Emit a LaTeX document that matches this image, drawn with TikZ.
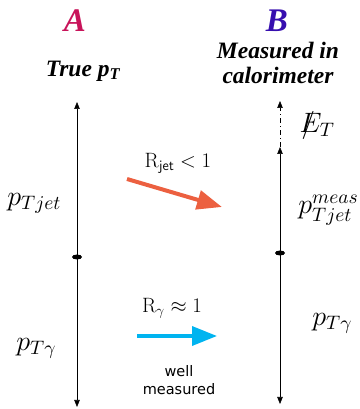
\documentclass[tikz,border=0pt]{standalone}
\usepackage{amsmath, amssymb}
\usepackage{fontspec}
\usepackage{tikz}
\usetikzlibrary{arrows.meta, shapes.geometric}
\usepackage{xcolor}

\newfontfamily\titlefont{Liberation Serif}
\newfontfamily\notefont{DejaVu Sans}

\definecolor{colA}{RGB}{200,20,90}
\definecolor{colB}{RGB}{55,15,175}
\definecolor{jetred}{RGB}{236,96,64}
\definecolor{photblue}{RGB}{0,180,240}

\begin{document}
\begin{tikzpicture}[
        x=1pt, y=1pt,
        head/.style={font=\titlefont\fontsize{33}{35}\selectfont\bfseries\itshape},
        title/.style={
            font=\titlefont\fontsize{23.5}{25}\selectfont\bfseries\itshape,
            align=center
        },
        lab/.style={font=\fontsize{14.4}{16}\selectfont, scale=1.95, inner sep=0pt},
        rlab/.style={font=\huge, inner sep=0pt},
        note/.style={font=\notefont\fontsize{14.5}{18.5}\selectfont, align=center},
        axis/.style={<->, >={Triangle[length=7pt,width=5.5pt]}, semithick},
        tick/.style={
            ellipse,
            fill=black,
            inner sep=0pt,
            minimum width=10pt,
            minimum height=5pt
        },
        resp/.style={line width=4pt, -{Triangle[length=25pt,width=19pt]}}
    ]

        \useasboundingbox (0,0) rectangle (359,409);

        \node[head, text=colA] (A) at (75,388) {A};
        \node[head, text=colB] (B) at (277,388) {B};

        \node[title] (truept) at (83,338) {True p\textsubscript{T}};
        \node[title] (meas) at (278,346) {Measured in\\ calorimeter};

        % true side
        \coordinate (ltop) at (77,307);
        \coordinate (lbot) at (77,2);

        \node[lab, anchor=west] (ptjet) at (7,206) {$p_{Tjet}$};
        \node[lab, anchor=west] (ptgam) at (16,61) {$p_{T\gamma}$};

        % measured side
        \coordinate (rmet) at (280,308);
        \coordinate (rtop) at (280,262);
        \coordinate (rbot) at (280,5);

        \node[lab, anchor=west] (etmiss) at (301,284) {${/}\mkern-10mu E_T$};
        \node[lab, anchor=west] (ptmeas) at (298,199) {$p_{Tjet}^{meas}$};
        \node[lab, anchor=west] (ptgamr) at (312,86) {$p_{T\gamma}$};

        % responses
        \coordinate (jstart) at (127,230);
        \coordinate (jend) at (222,202);
        \node[rlab] (rjet) at (178,246) {$\mathrm{R}_{\textsf{jet}} < 1$};

        \coordinate (gstart) at (137,73);
        \coordinate (gend) at (217,73);
        \node[rlab] (rgam) at (172,101) {$\mathrm{R}_{\gamma} \approx 1$};
        \node[note] (well) at (179,29) {well\\ measured};

        \draw[axis] (ltop) -- (lbot);
        \draw[axis] (rtop) -- (rbot);
        \draw[axis, dash pattern=on 5pt off 3pt on 1pt off 3pt,
            -{Triangle[length=7pt,width=5.5pt]}] (rtop) -- (rmet);
        \node[tick] (lmid) at (77,152) {};
        \node[tick] (rmid) at (280,156) {};

        \draw[resp, jetred] (jstart) -- (jend);
        \draw[resp, photblue, line width=3.5pt] (gstart) -- (gend);

    \end{tikzpicture}
\end{document}
